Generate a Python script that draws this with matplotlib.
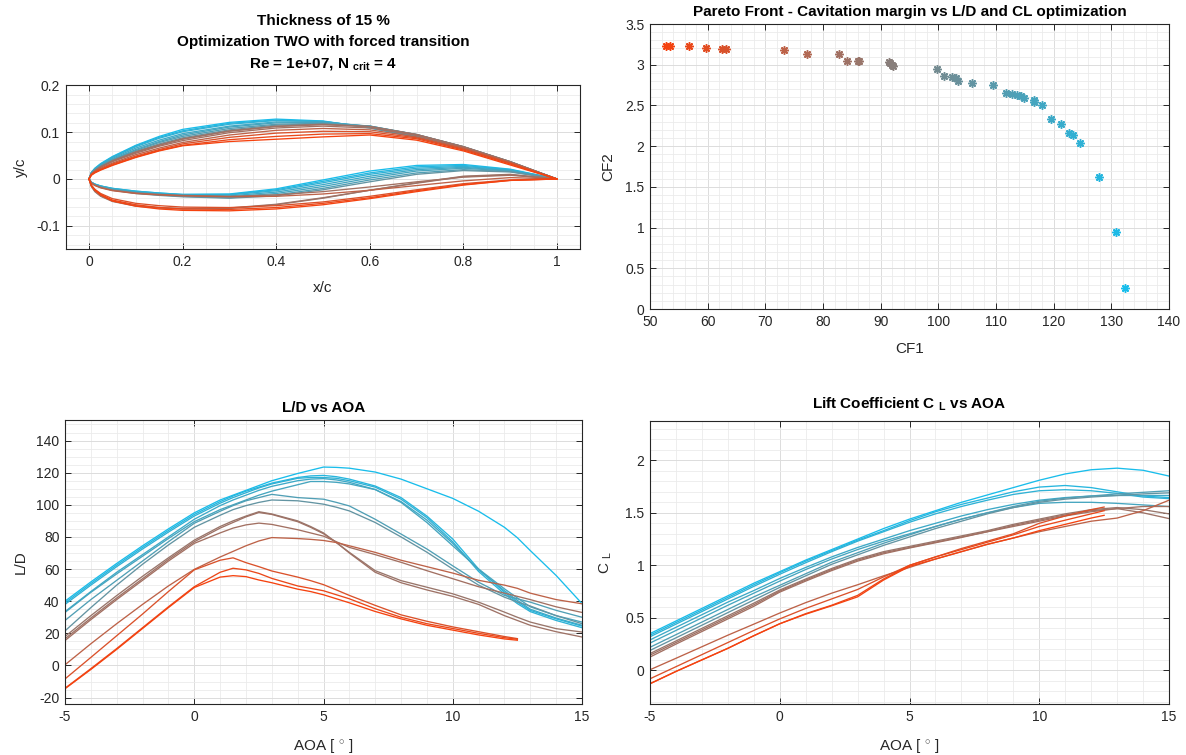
import numpy as np
import matplotlib
matplotlib.use('Agg')
import matplotlib.pyplot as plt
from matplotlib.ticker import MultipleLocator, FuncFormatter

plt.rcParams['font.family'] = ['Liberation Sans', 'DejaVu Sans']
plt.rcParams['axes.unicode_minus'] = False
plt.rcParams['mathtext.fontset'] = 'custom'
plt.rcParams['mathtext.rm'] = 'Liberation Sans'
plt.rcParams['mathtext.bf'] = 'Liberation Sans:bold'
plt.rcParams['mathtext.it'] = 'Liberation Sans:italic'

# ---------------- Pareto front data ----------------
cf1 = [52.8, 53.4, 56.7, 59.7, 62.4, 63.1, 73.2, 77.3, 82.7, 84.1, 86.0, 86.2,
       91.4, 91.7, 91.9, 92.2, 99.7, 101.0, 102.4, 103.0, 103.4, 105.8, 109.5,
       111.8, 112.7, 113.6, 114.3, 114.9, 116.6, 116.6, 117.9, 119.5, 121.3,
       122.6, 123.3, 124.5, 127.9, 130.8, 132.3]
cf2 = [3.235, 3.235, 3.226, 3.20, 3.19, 3.19, 3.185, 3.136, 3.136, 3.05, 3.045,
       3.04, 3.03, 3.02, 3.00, 2.98, 2.947, 2.857, 2.85, 2.84, 2.80, 2.774, 2.75,
       2.647, 2.643, 2.63, 2.618, 2.59, 2.57, 2.544, 2.503, 2.339, 2.269, 2.158,
       2.133, 2.043, 1.615, 0.949, 0.263]

# CF1 of the 14 designs whose curves are drawn (sets their colour)
design_cf1 = [132.3, 127.9, 124.5, 119.5, 116.6, 112.7, 105.8, 86.2, 84.1, 82.7,
              73.2, 62.4, 56.7, 52.8]

# ---------------- Airfoil geometry ----------------
xc = [0, 0.005, 0.0125, 0.025, 0.05, 0.1, 0.15, 0.2, 0.3, 0.4, 0.5, 0.6, 0.7, 0.8, 0.9, 1.0]
upper = [
    [0, .014, .023, .033, .048, .072, .091, .106, .121, .128, .124, .109, .089, .064, .034, 0],
    [0, .014, .022, .032, .047, .071, .089, .103, .119, .126, .123, .110, .090, .065, .035, 0],
    [0, .013, .022, .031, .046, .069, .087, .101, .117, .125, .123, .111, .091, .066, .035, 0],
    [0, .013, .021, .030, .044, .066, .083, .097, .113, .122, .122, .112, .093, .067, .036, 0],
    [0, .012, .020, .029, .042, .063, .080, .094, .111, .120, .121, .113, .094, .068, .036, 0],
    [0, .012, .019, .028, .041, .061, .078, .091, .108, .117, .119, .113, .095, .069, .037, 0],
    [0, .011, .018, .027, .040, .059, .075, .088, .105, .115, .118, .113, .095, .069, .037, 0],
    [0, .011, .018, .026, .039, .058, .073, .086, .103, .113, .117, .112, .095, .069, .037, 0],
    [0, .011, .018, .026, .038, .057, .072, .085, .102, .112, .116, .112, .095, .069, .037, 0],
    [0, .010, .017, .025, .037, .055, .070, .082, .099, .109, .113, .109, .093, .068, .036, 0],
    [0, .010, .016, .023, .034, .052, .066, .078, .094, .104, .108, .105, .090, .066, .035, 0],
    [0, .009, .015, .021, .032, .049, .063, .075, .089, .098, .102, .101, .088, .064, .034, 0],
    [0, .009, .014, .020, .030, .047, .061, .072, .084, .091, .096, .097, .086, .062, .032, 0],
    [0, .008, .013, .019, .029, .046, .060, .071, .080, .085, .090, .094, .083, .060, .030, 0],
]
lower = [
    [0, -.007, -.011, -.015, -.020, -.026, -.030, -.033, -.032, -.021, -.002, .017, .029, .031, .021, 0],
    [0, -.007, -.011, -.015, -.020, -.026, -.030, -.033, -.033, -.023, -.005, .013, .026, .029, .020, 0],
    [0, -.007, -.011, -.015, -.021, -.027, -.031, -.034, -.034, -.025, -.008, .010, .023, .027, .019, 0],
    [0, -.007, -.012, -.016, -.021, -.028, -.032, -.035, -.036, -.028, -.012, .006, .020, .025, .018, 0],
    [0, -.008, -.012, -.016, -.022, -.029, -.033, -.036, -.038, -.031, -.016, .002, .017, .023, .017, 0],
    [0, -.008, -.013, -.017, -.023, -.030, -.034, -.037, -.040, -.034, -.020, -.002, .013, .020, .016, 0],
    [0, -.008, -.013, -.018, -.024, -.031, -.035, -.038, -.041, -.036, -.023, -.006, .010, .018, .015, 0],
    [0, -.016, -.027, -.037, -.048, -.058, -.062, -.064, -.063, -.055, -.041, -.024, -.008, .006, .010, 0],
    [0, -.015, -.026, -.036, -.047, -.057, -.061, -.063, -.062, -.054, -.040, -.024, -.009, .005, .009, 0],
    [0, -.008, -.013, -.018, -.024, -.030, -.033, -.035, -.037, -.034, -.027, -.017, -.006, .004, .008, 0],
    [0, -.009, -.014, -.019, -.025, -.031, -.034, -.036, -.038, -.037, -.032, -.024, -.014, -.004, .003, 0],
    [0, -.013, -.022, -.031, -.042, -.052, -.057, -.060, -.061, -.057, -.049, -.037, -.023, -.010, -.002, 0],
    [0, -.014, -.023, -.033, -.045, -.055, -.061, -.064, -.065, -.061, -.052, -.040, -.025, -.012, -.003, 0],
    [0, -.014, -.024, -.034, -.047, -.058, -.064, -.067, -.068, -.064, -.055, -.042, -.027, -.013, -.003, 0],
]

# ---------------- L/D vs AOA ----------------
ld_aoa = [-5, -4, -3, -2, -1, 0, 1, 1.5, 2, 2.5, 3, 4, 4.5, 5, 5.5, 6, 7, 8, 9, 10, 11, 12, 12.5, 13, 14, 15]
ld_curves = [
    [40, 52, 63.5, 74.5, 85, 95, 103, 106, 109, 112, 115, 119.5, 121.5, 123.5, 123.3, 122.8, 120.4, 116, 110, 104, 96, 86, 79.5, 71.5, 56, 38.5],
    [39, 51, 62.5, 73.5, 84, 94, 102, 105.5, 108.5, 111, 113.5, 117, 118, 118.3, 117.5, 116, 111.7, 104.5, 93, 78.7, 60, 45.6, 39.5, 34.3, 29, 24.5],
    [38, 50, 61.5, 72.5, 83, 93, 101, 104.5, 107.5, 110.5, 113, 116.5, 117, 117, 116.5, 115, 111, 103.5, 92, 77, 58.5, 44.5, 38.5, 33.5, 28, 23.5],
    [33.5, 46, 58, 69, 80, 91, 99.5, 103, 106, 109, 111.5, 115, 116, 116.3, 115.5, 114, 109.5, 102, 90.5, 76, 59.5, 46.5, 40.5, 35, 29.5, 25],
    [33, 45.5, 57, 68, 79, 89.5, 97, 100, 103, 106, 108.5, 112.5, 114.5, 114.5, 114, 113, 109.5, 101.5, 89, 74.5, 60, 47.7, 42, 36.5, 31, 27],
    [28, 41, 53, 65, 77, 88.5, 96, 99.5, 102.5, 104.5, 106.5, 104.5, 104, 103.5, 101.5, 99.3, 91, 81.8, 72.5, 62, 51.8, 43.6, 41.5, 39.4, 34.3, 30],
    [21.5, 36, 50, 63, 75, 86, 93.5, 97, 99.5, 101.5, 103, 102.5, 101.5, 100.4, 98.5, 96.2, 89, 80, 70.5, 60, 50, 42.5, 39.5, 37, 31, 26],
    [18, 31, 43.5, 55.5, 67, 78, 86.5, 90, 93, 95.7, 94.3, 90, 86.5, 82.5, 76.5, 70.4, 59, 52.8, 48.7, 44.6, 39.4, 33.2, 30, 27, 22.9, 20.8],
    [16.6, 29.5, 42, 54, 66, 77, 85.5, 89, 92.5, 95.2, 94, 89.5, 86, 82, 76.5, 70, 58, 51.5, 47, 43, 38, 31, 28, 25, 21, 17.7],
    [15.5, 28.5, 41, 53, 65, 76, 82.5, 85.5, 87.5, 88.6, 87.8, 84.5, 82.5, 80.5, 77, 73.5, 69, 64.2, 59, 54, 49, 45, 43, 41, 36.5, 33],
    [0.4, 13.5, 26, 38, 49.5, 59.8, 67.5, 71, 74.5, 77.5, 79.6, 79, 78.5, 77.8, 76.5, 74.5, 70.4, 65.5, 61.5, 57.5, 53, 50, 48, 45, 41, 38.4],
    [-8.4, 5, 18.5, 32, 46, 59.5, 65.5, 67, 64, 61.5, 58.8, 55, 52.8, 50.3, 47, 43.6, 37.4, 31.5, 27.5, 24, 21, 18, 16.7],
    [-14.2, -2, 10.5, 23.5, 36.5, 49, 58, 60.5, 59.5, 57.3, 54.2, 49.5, 48, 46.5, 44, 41.5, 35.3, 30, 26, 23, 20, 17.3, 16.3],
    [-14.5, -2.5, 10, 23, 36, 48.5, 55, 55.9, 55.3, 53.2, 51.5, 47.5, 46, 44, 41.5, 39, 33.6, 29, 25, 22, 19, 16.5, 15.7],
]

# ---------------- CL vs AOA ----------------
cl_aoa = [-5, -4, -3, -2, -1, 0, 1, 2, 3, 4, 5, 6, 7, 8, 9, 10, 11, 12, 13, 14, 15]
cl_aoa_short = [-5, -4, -3, -2, -1, 0, 1, 2, 3, 4, 5, 6, 7, 8, 9, 10, 11, 12, 12.5]
cl_curves = [
    [0.35, 0.47, 0.59, 0.71, 0.83, 0.94, 1.05, 1.15, 1.25, 1.35, 1.44, 1.52, 1.60, 1.67, 1.74, 1.81, 1.87, 1.91, 1.925, 1.905, 1.85],
    [0.335, 0.455, 0.575, 0.695, 0.815, 0.93, 1.04, 1.14, 1.24, 1.33, 1.425, 1.51, 1.58, 1.64, 1.70, 1.745, 1.76, 1.74, 1.70, 1.66, 1.645],
    [0.32, 0.44, 0.56, 0.68, 0.80, 0.915, 1.025, 1.13, 1.23, 1.32, 1.41, 1.49, 1.56, 1.62, 1.675, 1.71, 1.72, 1.71, 1.685, 1.65, 1.635],
    [0.29, 0.41, 0.53, 0.65, 0.76, 0.875, 0.98, 1.08, 1.17, 1.25, 1.33, 1.40, 1.47, 1.53, 1.58, 1.62, 1.645, 1.66, 1.665, 1.665, 1.665],
    [0.26, 0.38, 0.50, 0.62, 0.735, 0.85, 0.96, 1.06, 1.15, 1.23, 1.30, 1.37, 1.44, 1.50, 1.55, 1.59, 1.60, 1.60, 1.59, 1.575, 1.56],
    [0.22, 0.34, 0.46, 0.58, 0.70, 0.81, 0.92, 1.03, 1.12, 1.21, 1.29, 1.37, 1.44, 1.50, 1.56, 1.61, 1.64, 1.66, 1.68, 1.695, 1.71],
    [0.19, 0.31, 0.43, 0.55, 0.67, 0.79, 0.90, 1.01, 1.10, 1.19, 1.27, 1.35, 1.42, 1.49, 1.55, 1.60, 1.63, 1.65, 1.665, 1.68, 1.69],
    [0.16, 0.28, 0.40, 0.52, 0.64, 0.765, 0.87, 0.97, 1.06, 1.13, 1.18, 1.23, 1.28, 1.33, 1.39, 1.44, 1.49, 1.53, 1.55, 1.53, 1.49],
    [0.145, 0.265, 0.385, 0.505, 0.625, 0.755, 0.86, 0.96, 1.05, 1.12, 1.17, 1.22, 1.27, 1.32, 1.38, 1.43, 1.48, 1.52, 1.54, 1.50, 1.445],
    [0.127, 0.25, 0.37, 0.49, 0.61, 0.745, 0.85, 0.95, 1.04, 1.11, 1.165, 1.215, 1.265, 1.32, 1.37, 1.42, 1.47, 1.51, 1.54, 1.56, 1.56],
    [0.006, 0.115, 0.225, 0.335, 0.44, 0.546, 0.645, 0.735, 0.815, 0.90, 0.98, 1.06, 1.13, 1.20, 1.26, 1.32, 1.37, 1.42, 1.45, 1.52, 1.62],
    [-0.08, 0.035, 0.15, 0.265, 0.38, 0.49, 0.59, 0.68, 0.77, 0.89, 1.0, 1.08, 1.16, 1.23, 1.30, 1.40, 1.47, 1.53, 1.555],
    [-0.127, -0.01, 0.10, 0.21, 0.33, 0.444, 0.54, 0.62, 0.714, 0.87, 1.0, 1.08, 1.15, 1.22, 1.29, 1.37, 1.43, 1.49, 1.52],
    [-0.127, -0.01, 0.10, 0.21, 0.33, 0.444, 0.535, 0.615, 0.70, 0.86, 0.99, 1.06, 1.13, 1.20, 1.26, 1.33, 1.39, 1.45, 1.476],
]

# ---------------- colours ----------------
RED = np.array([0.96, 0.26, 0.06])
CYAN = np.array([0.10, 0.74, 0.92])
cmin, cmax = min(cf1), max(cf1)


def colour(v):
    t = (v - cmin) / (cmax - cmin)
    t = min(max(t, 0.0), 1.0)
    return tuple(RED + (CYAN - RED) * t)


W, H = 1186, 755
fig = plt.figure(figsize=(W / 100, H / 100), dpi=100)


def px_axes(l, r, t, b):
    return fig.add_axes([l / W, 1 - b / H, (r - l) / W, (b - t) / H])


fmt = FuncFormatter(lambda v, p: '%g' % (0 if abs(v) < 1e-12 else v))
TXT = '#262626'


def style(ax, xmaj, xmin, ymaj, ymin):
    ax.xaxis.set_major_locator(MultipleLocator(xmaj))
    ax.xaxis.set_minor_locator(MultipleLocator(xmin))
    ax.yaxis.set_major_locator(MultipleLocator(ymaj))
    ax.yaxis.set_minor_locator(MultipleLocator(ymin))
    ax.xaxis.set_major_formatter(fmt)
    ax.yaxis.set_major_formatter(fmt)
    ax.grid(which='major', color='#DCDCDC', lw=0.7)
    ax.grid(which='minor', color='#EBEBEB', lw=0.6)
    ax.set_axisbelow(True)
    ax.tick_params(which='major', direction='in', length=4, width=0.7,
                   top=True, right=True, labelsize=10, colors=TXT, pad=4)
    ax.tick_params(which='minor', length=0, top=True, right=True)
    for s in ax.spines.values():
        s.set_color(TXT)
        s.set_linewidth(0.8)


LW = 0.95

# ---------- airfoils ----------
ax1 = px_axes(65.6, 580.4, 85.4, 249.2)
for i in range(len(upper)):
    c = colour(design_cf1[i])
    ax1.plot(xc, upper[i], color=c, lw=LW)
    ax1.plot(xc, lower[i], color=c, lw=LW)
ax1.set_xlim(-0.05, 1.05)
ax1.set_ylim(-0.15, 0.2)
style(ax1, 0.2, 0.05, 0.1, 0.02)
ax1.set_xlabel('x/c', fontsize=11, color=TXT, labelpad=9)
ax1.set_ylabel('y/c', fontsize=11, color=TXT, labelpad=6)
ax1.set_title('Thickness of 15 %\nOptimization TWO with forced transition\n'
              r'Re = 1e+07, N $_\mathbf{crit}$ = 4',
              fontsize=11, fontweight='bold', color='black', pad=13, linespacing=1.6)

# ---------- Pareto ----------
ax2 = px_axes(650, 1169, 24, 309)
for x, y in zip(cf1, cf2):
    ax2.plot([x], [y], linestyle='none', marker=(8, 2, 0), markersize=6,
             markeredgewidth=1.1, color=colour(x))
ax2.set_xlim(50, 140)
ax2.set_ylim(0, 3.5)
style(ax2, 10, 2, 0.5, 0.1)
ax2.set_xlabel('CF1', fontsize=11, color=TXT, labelpad=10)
ax2.set_ylabel('CF2', fontsize=11, color=TXT, labelpad=7)
ax2.set_title('Pareto Front - Cavitation margin vs L/D and CL optimization',
              fontsize=11, fontweight='bold', color='black', pad=5.5)

# ---------- L/D ----------
ax3 = px_axes(65, 582, 420, 704)
for i, vals in enumerate(ld_curves):
    ax3.plot(ld_aoa[:len(vals)], vals, color=colour(design_cf1[i]), lw=LW)
ax3.set_xlim(-5, 15)
ax3.set_ylim(-24, 152.8)
style(ax3, 5, 1, 20, 5)
ax3.set_xlabel(r'AOA [ $^{\circ}$ ]', fontsize=11, color=TXT, labelpad=9.5)
ax3.set_ylabel('L/D', fontsize=11, color=TXT, labelpad=6)
ax3.set_title('L/D vs AOA', fontsize=11, fontweight='bold', color='black', pad=6)

# ---------- CL ----------
ax4 = px_axes(650, 1169, 421, 704)
for i, vals in enumerate(cl_curves):
    xs = cl_aoa if len(vals) == len(cl_aoa) else cl_aoa_short
    ax4.plot(xs, vals, color=colour(design_cf1[i]), lw=LW)
ax4.set_xlim(-5, 15)
ax4.set_ylim(-0.32, 2.374)
style(ax4, 5, 1, 0.5, 0.1)
ax4.set_xlabel(r'AOA [ $^{\circ}$ ]', fontsize=11, color=TXT, labelpad=9.5)
ax4.set_ylabel(r'C $_\mathrm{L}$', fontsize=11, color=TXT, labelpad=8)
ax4.set_title(r'Lift Coefficient C $_\mathbf{L}$ vs AOA', fontsize=11,
              fontweight='bold', color='black', pad=9)

fig.savefig('out.png', dpi=100)
